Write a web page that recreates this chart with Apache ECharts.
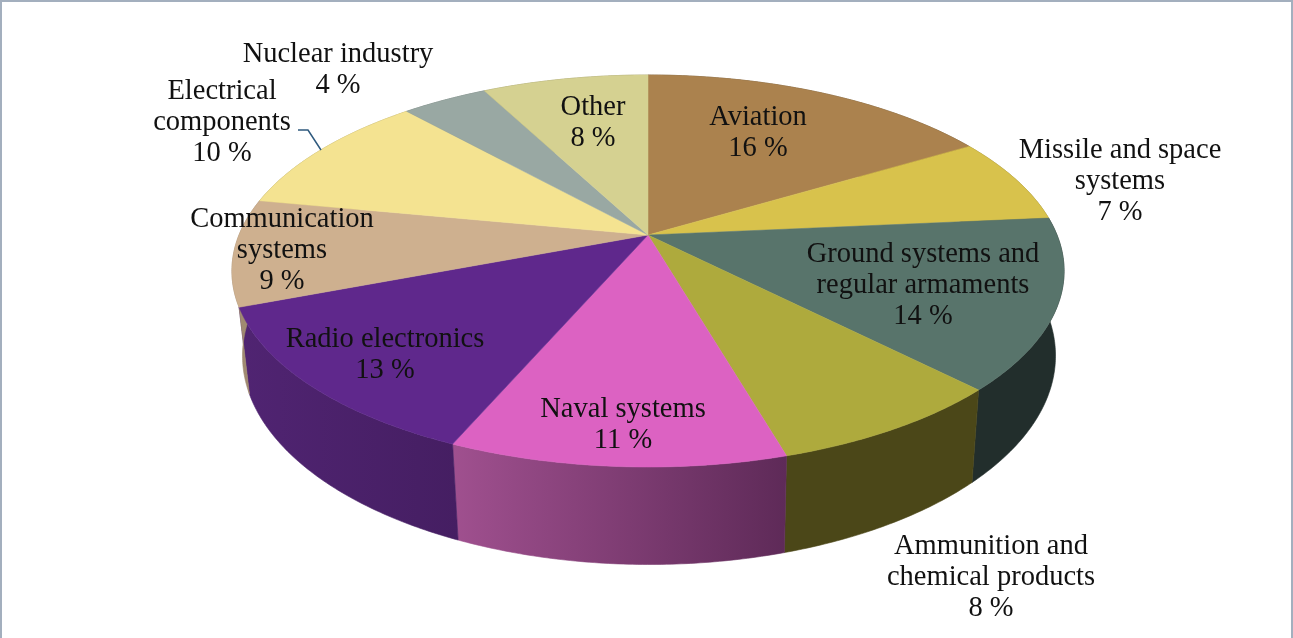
<!DOCTYPE html>
<html><head><meta charset="utf-8">
<style>html,body{margin:0;padding:0;background:#fff}#c{width:1293px;height:638px}</style>
<script src="https://cdn.jsdelivr.net/npm/echarts@6/dist/echarts.min.js"></script>
</head><body><div id="c"></div>
<script>
// Data: slice sizes; the labels show them rounded
const categories = ['Aviation','Missile and space\nsystems','Ground systems and\nregular armaments','Ammunition and\nchemical products','Naval systems','Radio electronics','Communication\nsystems','Electrical\ncomponents','Nuclear industry','Other'];
const shares = [16.45,7.1,14.05,7.9,11.0,12.7,8.8,10.3,4.0,7.7];
// Style and layout
const topColors = ['#ab824e','#d8c24c','#58746b','#aeaa3d','#dc62c2','#5f288c','#ceb08f','#f4e391','#99a8a3','#d5d191'];
const wallLeft  = ['#6b5230','#8a7b30','#222e2c','#4b4718','#a0508f','#502472','#a08a70','#a89d60','#6a7572','#93905f'];
const wallRight = ['#6b5230','#8a7b30','#222e2c','#4b4718','#5e2a58','#451e62','#a08a70','#a89d60','#6a7572','#93905f'];
const labelCenters = [[758,133],[1120,182],[923,286],[991,578],[623,425],[385,355],[282,251],[222,123],[338,70],[593,123]];
const CX=648, CY=235, A=409, B=189.4, P=0.1837;      // top face projection
const WALL_DX=1, WALL_DY=82.4, WALL_AX=0.977, WALL_BY=1.065;       // base face projection
const total = shares.reduce((a,b)=>a+b,0);
const cum = shares.reduce((o,v)=>{o.push(o[o.length-1]+v);return o;},[0]);

function topPt(t){const u=Math.sin(t),v=-Math.cos(t),s=1/(1-P*v);return [CX+A*u*s,CY+B*v*s];}
function basePt(t){const u=Math.sin(t),v=-Math.cos(t),s=1/(1-P*v);return [CX+WALL_DX+A*WALL_AX*u*s,CY+WALL_DY+B*WALL_BY*v*s];}
function arc(f,a0,a1){const n=Math.max(2,Math.ceil((a1-a0)/0.01)),r=[];for(let i=0;i<=n;i++)r.push(f(a0+(a1-a0)*i/n));return r;}
function angles(i){return [cum[i]/total*2*Math.PI,cum[i+1]/total*2*Math.PI];}

function renderWall(params,api){
  const i=params.dataIndex,[a0,a1]=angles(i);
  const pts=arc(topPt,a0,a1).concat(arc(basePt,a0,a1).reverse());
  const fill=wallLeft[i]===wallRight[i]?wallLeft[i]:new echarts.graphic.LinearGradient(0,0,1,0,[{offset:0,color:wallLeft[i]},{offset:1,color:wallRight[i]}]);
  return {type:'polygon',shape:{points:pts},style:{fill:fill,stroke:fill,lineWidth:0.6}};
}
function renderTop(params,api){
  const i=params.dataIndex,[a0,a1]=angles(i);
  const pts=[[CX,CY]].concat(arc(topPt,a0,a1));
  return {type:'polygon',shape:{points:pts},style:{fill:topColors[i],stroke:topColors[i],lineWidth:0.5}};
}
function renderLabel(params,api){
  const i=params.dataIndex,c=labelCenters[i];
  return {type:'text',style:{text:categories[i]+'\n'+Math.round(api.value(1))+' %',x:c[0],y:c[1],align:'center',verticalAlign:'middle',
    font:'28.5px "Liberation Serif"',lineHeight:31,fill:'#111'}};
}
const data=categories.map((n,i)=>[n,shares[i]]);
const chart=echarts.init(document.getElementById('c'),null,{renderer:'canvas'});
chart.setOption({
  animation:false,
  backgroundColor:'#fff',
  graphic:[
    {type:'rect',z:0,shape:{x:1,y:1,width:1291,height:660},style:{fill:'none',stroke:'#a3afbe',lineWidth:2}},
    {type:'polyline',z:10,shape:{points:[[298,130],[308,130],[321,150]]},style:{stroke:'#2f5a7e',lineWidth:1.5,fill:'none'}}
  ],
  series:[
    {type:'custom',coordinateSystem:'none',data:data,renderItem:renderWall,z:2,silent:true},
    {type:'custom',coordinateSystem:'none',data:data,renderItem:renderTop,z:3,silent:true},
    {type:'custom',coordinateSystem:'none',data:data,renderItem:renderLabel,z:4,silent:true}
  ]
});
</script></body></html>
